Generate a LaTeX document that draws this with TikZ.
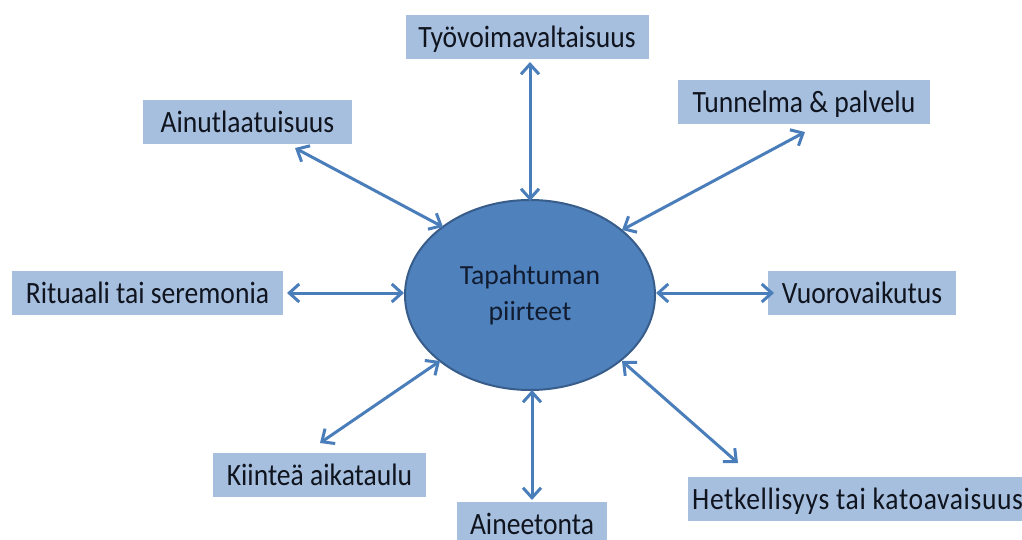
\documentclass[tikz,border=0pt]{standalone}
\usepackage{fontspec}
\setmainfont{Carlito}
\newfontfamily\boxfont{Carlito}[FakeStretch=0.89]
\newfontfamily\wideboxfont{Carlito}[FakeStretch=0.89,LetterSpace=2]
\usetikzlibrary{arrows.meta,shapes.geometric}
\definecolor{arrowblue}{RGB}{74,126,187}
\definecolor{ellfill}{RGB}{79,129,189}
\definecolor{elldraw}{RGB}{56,93,138}
\definecolor{boxfill}{RGB}{167,191,222}
\definecolor{boxtext}{RGB}{15,20,30}
\definecolor{elltext}{RGB}{18,28,48}
\begin{document}
\begin{tikzpicture}[x=1pt,y=-1pt,
  featbox/.style={rectangle, fill=boxfill, inner sep=0pt, minimum height=44pt,
    text height=20pt, text depth=0pt, text=boxtext,
    font=\boxfont\fontsize{31}{36}\selectfont},
  biarrow/.style={draw=arrowblue, line width=3pt,
    {Straight Barb[length=10pt,width=18pt,line width=3pt]}-{Straight Barb[length=10pt,width=18pt,line width=3pt]}}
]
\useasboundingbox (0,0) rectangle (1022,540);

\node[ellipse, fill=ellfill, draw=elldraw, line width=2pt, minimum width=250pt,
  minimum height=190pt, inner sep=0pt, align=center, text=elltext,
  font=\fontsize{27.7}{36}\selectfont] (ell) at (530,295) {Tapahtuman\\piirteet};

\node[featbox, minimum width=243pt] (tyo) at (527,37.5) {Työvoimavaltaisuus};
\node[featbox, minimum width=209pt] (ainu) at (247.5,122.5) {Ainutlaatuisuus};
\node[featbox, minimum width=252pt] (tunn) at (804,102.5) {Tunnelma \& palvelu};
\node[featbox, minimum width=271pt] (rit) at (147.5,293) {Rituaali tai seremonia};
\node[featbox, minimum width=188pt] (vuo) at (862,293) {Vuorovaikutus};
\node[featbox, minimum width=213pt] (kii) at (319.5,475) {Kiinteä aikataulu};
\node[featbox, minimum width=150pt] (aine) at (532,524) {Aineetonta};
\node[featbox, font=\wideboxfont\fontsize{31}{36}\selectfont, anchor=west, inner xsep=4pt, text width=345pt, align=flush left] (het) at (688,499) {Hetkellisyys tai katoavaisuus};

\coordinate (ttyo) at (530,62);
\coordinate (tainu) at (295,148);
\coordinate (ttunn) at (805,132);
\coordinate (trit) at (287,293);
\coordinate (tvuo) at (774,293);
\coordinate (tkii) at (320,443);
\coordinate (taine) at (532,500);
\coordinate (thet) at (738,463);

\coordinate (etyo) at (530,201);
\coordinate (eainu) at (443,227);
\coordinate (etunn) at (622,230);
\coordinate (erit) at (404,293);
\coordinate (evuo) at (656,293);
\coordinate (ekii) at (440,361);
\coordinate (eaine) at (532,390);
\coordinate (ehet) at (622,361);

\draw[biarrow] (ttyo) -- (etyo);
\draw[biarrow] (tainu) -- (eainu);
\draw[biarrow] (ttunn) -- (etunn);
\draw[biarrow] (trit) -- (erit);
\draw[biarrow] (tvuo) -- (evuo);
\draw[biarrow] (tkii) -- (ekii);
\draw[biarrow] (taine) -- (eaine);
\draw[biarrow] (thet) -- (ehet);
\end{tikzpicture}
\end{document}
